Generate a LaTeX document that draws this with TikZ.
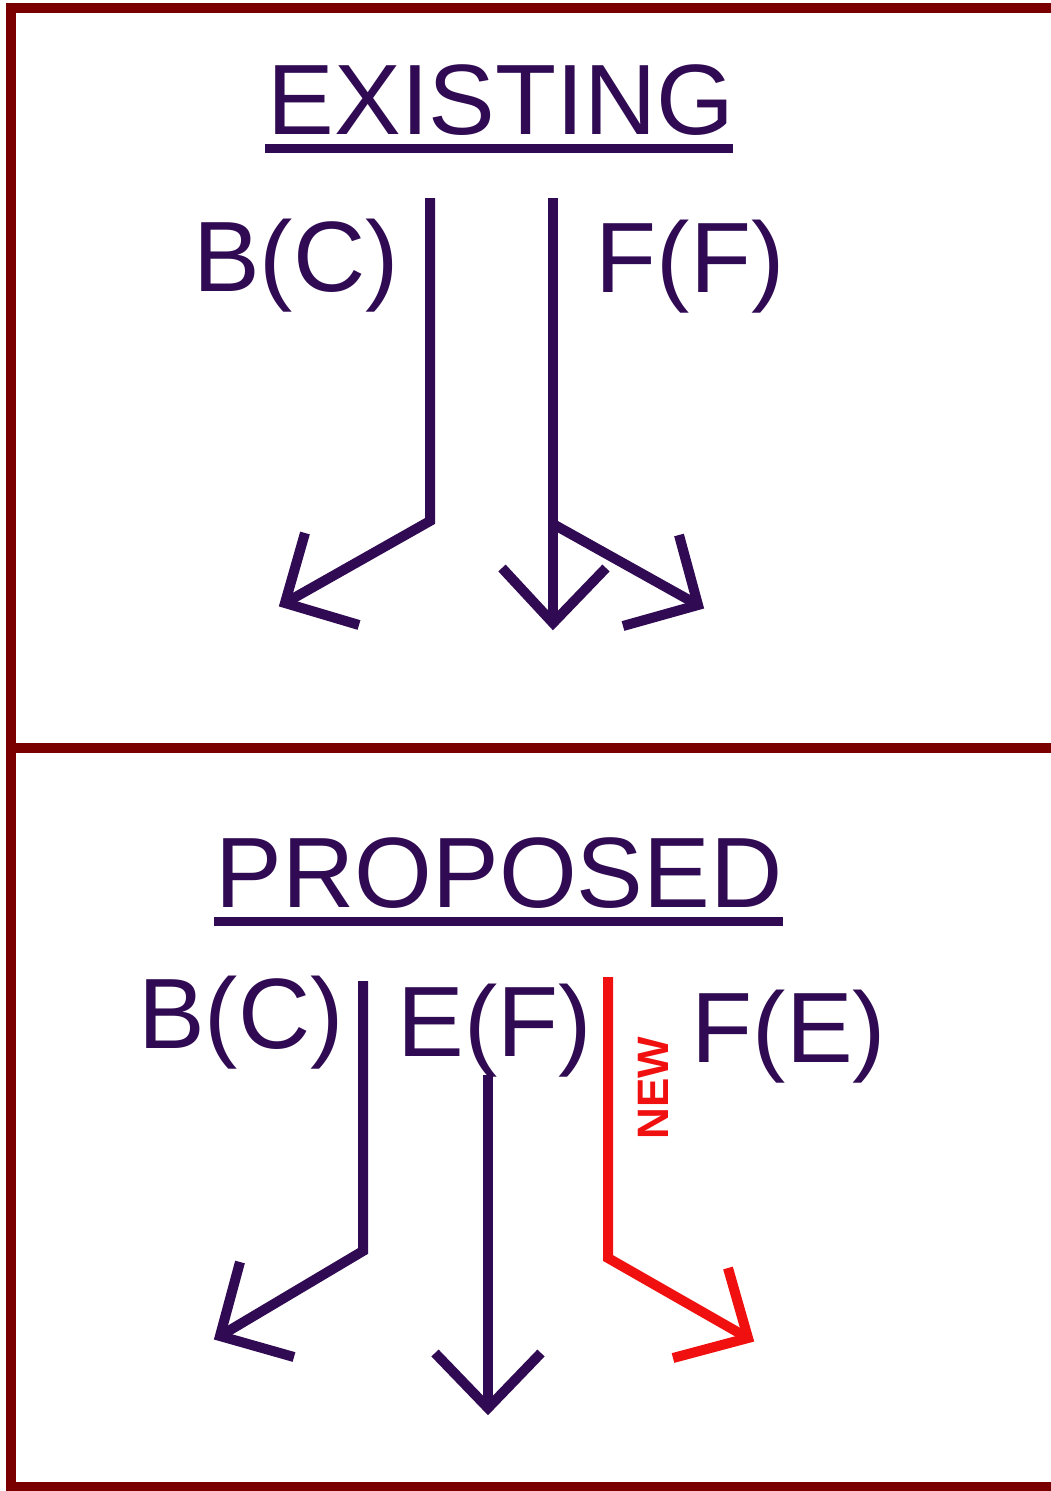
\documentclass[tikz,border=0pt]{standalone}
\usepackage{fontspec}
\setmainfont{Liberation Sans}
\definecolor{ink}{RGB}{48,10,82}
\definecolor{frameRed}{RGB}{122,0,0}
\definecolor{newRed}{RGB}{240,16,16}
\begin{document}
\begin{tikzpicture}[x=1pt,y=-1pt,
  frame/.style={draw=frameRed,line width=10pt},
  flow/.style={draw=ink,line width=10pt,line join=miter},
  newflow/.style={draw=newRed,line width=10pt,line join=miter},
  big/.style={text=ink,inner sep=0pt,anchor=base,font=\fontsize{100}{100}\selectfont},
  uline/.style={draw=ink,line width=9pt},
  newlbl/.style={text=newRed,inner sep=0pt,font=\bfseries\fontsize{44}{44}\selectfont,rotate=90}]
\useasboundingbox (0,0) rectangle (1051,1491);
\fill[white] (0,0) rectangle (1051,1491);
% frame
\coordinate (fTR) at (1051,7.5);
\coordinate (fTL) at (11,7.5);
\coordinate (fBL) at (11,1487);
\coordinate (fBR) at (1051,1487);
\coordinate (dL) at (11,748);
\coordinate (dR) at (1051,748);
\draw[frame] (fTR) -- (fTL) -- (fBL) -- (fBR);
\draw[frame] (dL) -- (dR);
% ---------- EXISTING ----------
\node[big] (exist) at (501,134) {EXISTING};
\coordinate (exU1) at (265,148);
\coordinate (exU2) at (733,148);
\draw[uline] (exU1) -- (exU2);
\node[big] (eBC) at (296,291) {B(C)};
\node[big] (eFF) at (690,292) {F(F)};
% left existing arrow
\coordinate (eL0) at (430,198);
\coordinate (eL1) at (430,521);
\coordinate (eLt) at (285,603);
\coordinate (eLa) at (305,533);
\coordinate (eLb) at (359,625);
\draw[flow] (eL0) -- (eL1) -- (eLt);
\draw[flow] (eLa) -- (eLt) -- (eLb);
% middle existing arrow
\coordinate (eM0) at (553,198);
\coordinate (eMt) at (553,623);
\coordinate (eMa) at (502,568);
\coordinate (eMb) at (606,568);
\draw[flow] (eM0) -- (eMt);
\draw[flow] (eMa) -- (eMt) -- (eMb);
% right branch existing
\coordinate (eR0) at (553,524);
\coordinate (eRt) at (698,605);
\coordinate (eRa) at (679,535);
\coordinate (eRb) at (623,626);
\draw[flow] (eR0) -- (eRt);
\draw[flow] (eRa) -- (eRt) -- (eRb);
% ---------- PROPOSED ----------
\node[big] (prop) at (499,907) {PROPOSED};
\coordinate (prU1) at (214,921);
\coordinate (prU2) at (783,921);
\draw[uline] (prU1) -- (prU2);
\node[big] (pBC) at (241,1048) {B(C)};
\node[big] (pEF) at (495,1056) {E(F)};
\node[big] (pFE) at (789,1062) {F(E)};
\node[newlbl] (pNew) at (653,1088) {NEW};
% left proposed
\coordinate (pL0) at (363,981);
\coordinate (pL1) at (363,1251);
\coordinate (pLt) at (220,1336);
\coordinate (pLa) at (240,1262);
\coordinate (pLb) at (294,1357);
\draw[flow] (pL0) -- (pL1) -- (pLt);
\draw[flow] (pLa) -- (pLt) -- (pLb);
% middle proposed
\coordinate (pM0) at (488,1075);
\coordinate (pMt) at (488,1408);
\coordinate (pMa) at (435,1353);
\coordinate (pMb) at (541,1353);
\draw[flow] (pM0) -- (pMt);
\draw[flow] (pMa) -- (pMt) -- (pMb);
% red new
\coordinate (pN0) at (608,977);
\coordinate (pN1) at (608,1258);
\coordinate (pNt) at (748,1338);
\coordinate (pNa) at (728,1268);
\coordinate (pNb) at (673,1358);
\draw[newflow] (pN0) -- (pN1) -- (pNt);
\draw[newflow] (pNa) -- (pNt) -- (pNb);
\end{tikzpicture}
\end{document}
